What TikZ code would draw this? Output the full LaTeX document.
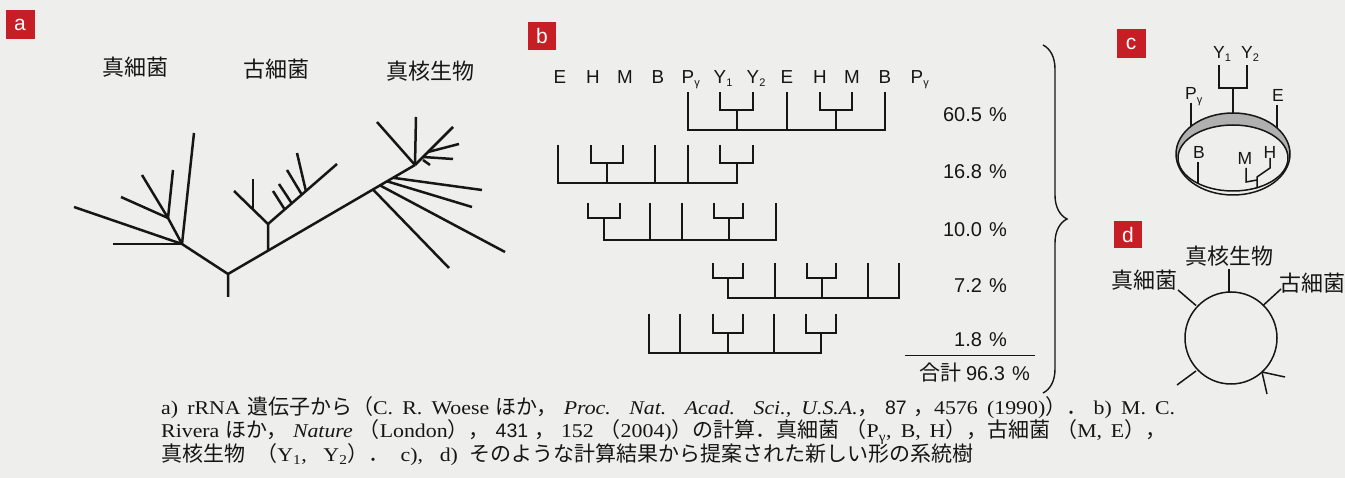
\documentclass[tikz,border=0pt]{standalone}
\usepackage{fontspec}
\setmainfont{Liberation Serif}[FakeStretch=1.12]
\newfontfamily\sansf{Liberation Sans}
\newfontfamily\cjk{Noto Sans CJK JP}
\usetikzlibrary{decorations.pathreplacing}
\definecolor{bg}{RGB}{238,238,236}
\definecolor{ink}{RGB}{22,22,22}
\definecolor{panelred}{RGB}{198,30,36}
\definecolor{bandgray}{RGB}{176,176,176}
\newcommand{\lowsub}[1]{\raisebox{-3.5pt}{\fontsize{11}{11}\selectfont #1}}
\newcommand{\jp}[1]{{\cjk\fontsize{21}{21}\selectfont #1}}
\newcommand{\kg}{\hspace{3pt plus 2.5pt}}
\begin{document}
\begin{tikzpicture}[x=1pt,y=-1pt,
  treeline/.style={draw=ink, line width=2.5pt, line join=round},
  cladeline/.style={draw=ink, line width=2pt},
  fineline/.style={draw=ink, line width=1.5pt},
  paneltag/.style={fill=panelred, text=white, font=\sansf\fontsize{21}{21}\selectfont, minimum width=29pt, minimum height=29pt, inner sep=0pt},
  leafb/.style={text=ink, font=\sansf\fontsize{18.8}{18.8}\selectfont, inner sep=0pt, anchor=base},
  leafc/.style={text=ink, font=\sansf\fontsize{17.5}{17.5}\selectfont, inner sep=0pt, anchor=base},
  jplabel/.style={text=ink, font=\cjk\fontsize{22}{22}\selectfont, inner sep=0pt},
  pctlabel/.style={text=ink, font=\sansf\fontsize{20}{20}\selectfont, inner sep=0pt, anchor=base east},
  captext/.style={text=ink, font=\fontsize{19.5}{19.5}\selectfont, inner sep=0pt, anchor=base west}
]
\fill[bg] (0,0) rectangle (1345,478);
\useasboundingbox (0,0) rectangle (1345,478);

% ---------- panel tags
\node[paneltag] (tagA) at (20,25) {a};
\node[paneltag, minimum width=28pt, minimum height=28pt] (tagB) at (542,36) {b};
\node[paneltag] (tagC) at (1131,43.5) {c};
\node[paneltag, minimum width=28pt, minimum height=27pt] (tagD) at (1128,235) {d};

% ---------- panel a
\node[jplabel] (aLabBac) at (135,67) {真細菌};
\node[jplabel] (aLabArc) at (276,69) {古細菌};
\node[jplabel] (aLabEuk) at (430,71) {真核生物};

\coordinate (aRootEnd) at (228,297);
\coordinate (aRoot) at (228,274);
\coordinate (aBac) at (182,244);
\coordinate (aBacSub) at (168,218);
\coordinate (aEuk) at (415,165);
\coordinate (aArcBase) at (268,250.7);
\coordinate (aArc) at (268,224);
\coordinate (aArcL) at (234,191);
\coordinate (aArcR) at (337,164);
\coordinate (aEukR) at (453,127);

\draw[treeline] (aRootEnd) -- (aRoot) -- (aBac);
\draw[treeline] (aRoot) -- (aEuk);
\draw[treeline] (aBac) -- (113,244);
\draw[treeline] (aBac) -- (74,207);
\draw[treeline] (aBac) -- (194,133);
\draw[treeline] (aBac) -- (aBacSub);
\draw[treeline] (aBacSub) -- (121,197);
\draw[treeline] (aBacSub) -- (142,175);
\draw[treeline] (aBacSub) -- (173,170);

\draw[treeline] (aArcBase) -- (aArc) -- (aArcL);
\draw[treeline] (aArc) -- (aArcR);
\draw[treeline] (253,179) -- (253,209);
\draw[treeline] (285,209.9) -- (273,191);
\draw[treeline] (292,203.7) -- (279,184);
\draw[treeline] (302,194.9) -- (287,170);
\draw[treeline] (306,191.4) -- (297,153);

\draw[treeline] (393,177.8) -- (482,190);
\draw[treeline] (387,181.3) -- (472,207);
\draw[treeline] (380,185.4) -- (505,252);
\draw[treeline] (373,189.5) -- (449,268);
\draw[treeline] (aEuk) -- (377,122);
\draw[treeline] (aEuk) -- (416,117);
\draw[treeline] (aEuk) -- (aEukR);
\draw[treeline] (428,152) -- (459,144);
\draw[treeline] (423,157) -- (453,159);
\draw[treeline] (423,160) -- (430,165);

% ---------- panel b labels
\foreach \x/\t in {560/E, 593/H, 625/M, 658/B, 787/E, 820/H, 852/M, 885/B}
  \node[leafb] (bL\x) at (\x,83.5) {\t};
\node[leafb] (bP1) at (688,83.5) {P\rlap{\lowsub{γ}}};
\node[leafb] (bY1) at (720,83.5) {Y\rlap{\lowsub{1}}};
\node[leafb] (bY2) at (753,83.5) {Y\rlap{\lowsub{2}}};
\node[leafb] (bP2) at (917,83.5) {P\rlap{\lowsub{γ}}};

% row 1 (top 92, joint 110, bottom 130)
\draw[cladeline] (688,92) -- (688,130) -- (885,130) -- (885,92);
\draw[cladeline] (720,92) -- (720,110) -- (753,110) -- (753,92);
\draw[cladeline] (736.5,110) -- (736.5,130);
\draw[cladeline] (787,92) -- (787,130);
\draw[cladeline] (820,92) -- (820,110) -- (852,110) -- (852,92);
\draw[cladeline] (836,110) -- (836,130);

% row 2 (145, 163, 183)
\draw[cladeline] (558,145) -- (558,183) -- (736.5,183) -- (736.5,163);
\draw[cladeline] (591,145) -- (591,163) -- (623,163) -- (623,145);
\draw[cladeline] (607,163) -- (607,183);
\draw[cladeline] (655,145) -- (655,183);
\draw[cladeline] (688,145) -- (688,183);
\draw[cladeline] (720,145) -- (720,163) -- (753,163) -- (753,145);

% row 3 (203, 218, 240)
\draw[cladeline] (588,203) -- (588,218) -- (620,218) -- (620,203);
\draw[cladeline] (604,218) -- (604,240) -- (776,240) -- (776,203);
\draw[cladeline] (650,203) -- (650,240);
\draw[cladeline] (682,203) -- (682,240);
\draw[cladeline] (714,203) -- (714,218) -- (743,218) -- (743,203);
\draw[cladeline] (728.5,218) -- (728.5,240);

% row 4 (263, 278, 298)
\draw[cladeline] (713,263) -- (713,278) -- (743,278) -- (743,263);
\draw[cladeline] (728,278) -- (728,298) -- (899,298) -- (899,263);
\draw[cladeline] (775,263) -- (775,298);
\draw[cladeline] (807,263) -- (807,278) -- (836,278) -- (836,263);
\draw[cladeline] (821.5,278) -- (821.5,298);
\draw[cladeline] (868,263) -- (868,298);

% row 5 (314, 333, 353)
\draw[cladeline] (649,314) -- (649,353) -- (821,353) -- (821,333);
\draw[cladeline] (680,314) -- (680,353);
\draw[cladeline] (713,314) -- (713,333) -- (743,333) -- (743,314);
\draw[cladeline] (728,333) -- (728,353);
\draw[cladeline] (774,314) -- (774,353);
\draw[cladeline] (806,314) -- (806,333) -- (836,333) -- (836,314);

% percentages
\node[pctlabel] (p1) at (1007,122) {60.5\hspace{7pt}\%};
\node[pctlabel] (p2) at (1007,179) {16.8\hspace{7pt}\%};
\node[pctlabel] (p3) at (1007,237) {10.0\hspace{7pt}\%};
\node[pctlabel] (p4) at (1007,293) {7.2\hspace{7pt}\%};
\node[pctlabel] (p5) at (1007,347) {1.8\hspace{7pt}\%};
\coordinate (ruleL) at (905,355.5);
\coordinate (ruleR) at (1035,355.5);
\draw[ink, line width=1pt] (ruleL) -- (ruleR);
\node[pctlabel] (ptot) at (1030,381) {{\cjk\fontsize{21}{21}\selectfont 合計}\hspace{5pt}96.3\hspace{7pt}\%};
\coordinate (braceTop) at (1043,45);
\coordinate (braceBot) at (1043,393);
\draw[ink, line width=1.4pt, decorate, decoration={brace, amplitude=24pt}] (braceTop) -- (braceBot);

% ---------- panel c
\begin{scope}
  \clip (1170,100) rectangle (1300,156);
  \fill[bandgray, even odd rule] (1233,154) ellipse [x radius=57pt, y radius=41pt]
                                 (1233,158) ellipse [x radius=55pt, y radius=33pt];
\end{scope}
\coordinate (cCenter) at (1233,154);
\draw[fineline] (1233,154) ellipse [x radius=57pt, y radius=41pt];
\draw[fineline] (1233,158) ellipse [x radius=55pt, y radius=33pt];
\node[leafc] (cY1) at (1219,58.3) {Y\rlap{\lowsub{1}}};
\node[leafc] (cY2) at (1247,58.3) {Y\rlap{\lowsub{2}}};
\node[leafc] (cP) at (1191,100) {P\rlap{\lowsub{γ}}};
\node[leafc] (cE) at (1278,101.7) {E};
\node[leafc] (cB) at (1199,158.3) {B};
\node[leafc] (cM) at (1245,165) {M};
\node[leafc] (cH) at (1270,158.3) {H};
\draw[fineline] (1219,65) -- (1219,88) -- (1247,88) -- (1247,65);
\draw[fineline] (1233,88) -- (1233,113);
\draw[fineline] (1191,103) -- (1191,126.3);
\draw[fineline] (1277,105) -- (1277,128);
\draw[fineline] (1198,162) -- (1198,183.4);
\draw[fineline] (1246,168) -- (1246,182) -- (1257,180);
\draw[fineline] (1270,158) -- (1270,168) -- (1257,177) -- (1257,188.5);

% ---------- panel d
\coordinate (dCenter) at (1231,338);
\draw[fineline] (dCenter) circle [radius=46pt];
\draw[fineline] (1229,269) -- (1229,292);
\draw[fineline] (1178,290) -- (1196,305.5);
\draw[fineline] (1281,289) -- (1263,305.5);
\draw[fineline] (1196,371) -- (1177,385);
\draw[fineline] (1262,372) -- (1285,377);
\draw[fineline] (1262,372) -- (1267,394);
\node[jplabel] (dEuk) at (1229,256) {真核生物};
\node[jplabel] (dBac) at (1144,280) {真細菌};
\node[jplabel] (dArc) at (1312,283) {古細菌};

% ---------- caption
\node[captext] (cap1) at (161,415) {\makebox[1014pt][s]{a) rRNA\kg\jp{遺伝子から（}C. R. Woese\kg\jp{ほか，}\kg\textit{Proc. Nat. Acad. Sci., U.S.A.}\jp{，}\kg{\sansf 87}\kg\jp{，}4576 (1990)\jp{）．}\kg b) M. C.}};
\node[captext] (cap2) at (161,438) {\makebox[1005pt][s]{Rivera\kg\jp{ほか，}\kg\textit{Nature}\kg\jp{（}London\jp{），}\kg{\sansf 431}\kg\jp{，}\kg 152\kg\jp{（}2004)\jp{）の計算．真細菌}\kg\jp{（}P\textsubscript{γ}, B, H\jp{），古細菌}\kg\jp{（}M, E\jp{），}}};
\node[captext] (cap3) at (161,461) {\makebox[812pt][s]{\jp{真核生物}\kg\jp{（}Y\textsubscript{1}, Y\textsubscript{2}\jp{）．}\kg c), d)\kg\jp{そのような計算結果から提案された新しい形の系統樹}}};
\end{tikzpicture}
\end{document}
